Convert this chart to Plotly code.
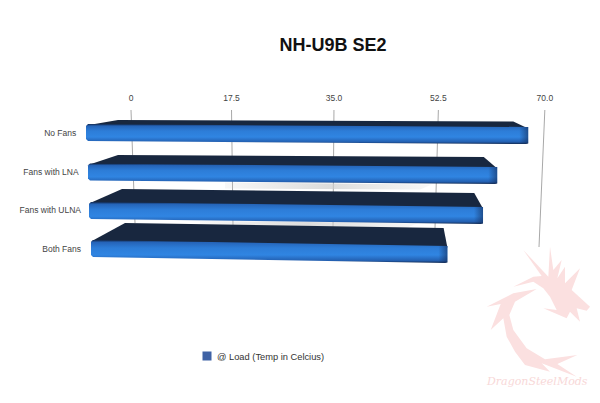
import plotly.graph_objects as go

# ---- data ----
categories = ["No Fans", "Fans with LNA", "Fans with ULNA", "Both Fans"]
load_temps = [67.0, 62.0, 59.7, 54.0]
tick_values = [0, 17.5, 35.0, 52.5, 70.0]
tick_labels = ["0", "17.5", "35.0", "52.5", "70.0"]
series_name = "@ Load (Temp in Celcius)"
title_text = "NH-U9B SE2"
watermark_text = "DragonSteelMods"

# ---- projection / layout geometry (screen pixels) ----
W, H = 600, 403
PLOT_L, PLOT_T = 82, 110
A, B, ZERO_X = 5.69, -0.000536, 131.0
UNIT = 5.91
ROW_Y0, ROW_DY = 133.0, 38.7

def ux(px):
    return (px - ZERO_X) / UNIT
def uy(py):
    return (py - ROW_Y0) / ROW_DY
def project(v):
    return ZERO_X + A * v / (1 + B * v)

# per-row bar geometry
front_left = [86, 88, 89, 91]
back_left = [118, 118, 122, 125]
front_top = [124, 163.5, 202, 240]
front_h = [17, 17, 17, 17]
back_top = [120, 155, 189, 223]
front_slope = [.0068, .0085, .0127, .0168]
back_slope = [.0038, .0055, .0114, .0158]
FRONT_SCALE, BACK_SCALE = 6.6, 5.9
grid_bottom = [(135, 223), (233, 226), (333, 228), (435, 228), (539, 247)]

fig = go.Figure()

def poly(pts, **kw):
    fig.add_trace(go.Scatter(
        x=[ux(p[0]) for p in pts] + [ux(pts[0][0])],
        y=[uy(p[1]) for p in pts] + [uy(pts[0][1])],
        mode="lines", fill="toself", line=dict(width=0),
        hoverinfo="skip", showlegend=False, **kw))

# watermark dragon (decoration, from zoomed-crop coordinates)
def wm(p):
    return [(470 + x / 3, 240 + y / 3) for x, y in p]
PINK = "#fbe0e0"
poly(wm([(200,147),(130,160),(50,200),(92,192),(62,270),(100,235),(110,290),(135,335),
         (165,375),(240,395),(215,370),(320,410),(262,372),(322,345),(225,358),(170,325),
         (130,270),(118,225),(135,185)]), fillcolor=PINK)
poly(wm([(130,140),(190,110),(215,108),(160,30),(235,110),(240,20),(250,90),(275,60),
         (262,115),(285,80),(285,130),(330,85),(305,150),(360,200),(350,212),(320,205),
         (330,245),(300,215),(290,235),(220,205),(260,210),(240,170),(220,145),(190,125)]),
     fillcolor=PINK)

# perspective gridlines
for v, (bx, by) in zip(tick_values, grid_bottom):
    fig.add_trace(go.Scatter(x=[ux(project(v)), ux(bx)], y=[uy(PLOT_T), uy(by)], mode="lines",
                             line=dict(color="#a8a8a8", width=1), hoverinfo="skip", showlegend=False))

# soft shadows under the middle bars
for i, (x0, x1) in {1: (225, 432), 2: (200, 418)}.items():
    y0 = front_top[i] + front_h[i]
    poly([(x0, y0 + 2), (x1, y0 + 4), (x1 - 12, y0 + 9), (x0, y0 + 8)],
         fillgradient=dict(type="horizontal",
                           colorscale=[[0, "rgba(205,205,205,0.15)"], [.5, "rgba(205,205,205,0.7)"],
                                       [1, "rgba(205,205,205,0.15)"]]))

# bars
face = [[0, "#132a50"], [.1, "#235fb0"], [.35, "#3085e2"], [.65, "#2d7dd8"], [.9, "#2564b8"], [1, "#12294f"]]
for i, v in enumerate(load_temps):
    fl, bl = front_left[i], back_left[i]
    fr = fl + v * FRONT_SCALE
    br = bl + v * BACK_SCALE
    ft, h = front_top[i], front_h[i]
    frt = ft + (fr - fl) * front_slope[i]
    brt = back_top[i] + (br - bl) * back_slope[i]
    poly([(bl, back_top[i]), (br, brt), (fr, frt + 1.5), (fl, ft + 1.5)], fillcolor="#18273f")
    poly([(fl, ft + 2), (fl + 2, ft), (fr, frt), (fr, frt + h - 1), (fr - 2, frt + h),
          (fl + 2, ft + h), (fl, ft + h - 2)],
         fillgradient=dict(type="vertical", colorscale=face))
    poly([(fr - 9, frt + (-9 * front_slope[i])), (fr, frt), (fr, frt + h), (fr - 9, frt + h)],
         fillgradient=dict(type="horizontal", colorscale=[[0, "rgba(20,45,90,0)"], [1, "rgba(20,45,90,0.6)"]]))

# legend entry
fig.add_trace(go.Scatter(x=[None], y=[None], mode="markers", name=series_name,
                         marker=dict(symbol="square", size=9, color="#3f62a5")))

x_range = [ux(PLOT_L), ux(W)]
y_range = [uy(H), uy(PLOT_T)]
FONT = "Liberation Sans"
fig.update_layout(
    width=W, height=H, autosize=False, paper_bgcolor="white", plot_bgcolor="white",
    margin=dict(l=PLOT_L, r=0, t=PLOT_T, b=0),
    font=dict(family=FONT, size=8.5, color="#444444"),
    title=dict(text=title_text, x=333 / W, xanchor="center", y=1 - 45 / H, yanchor="middle",
               font=dict(family=FONT, size=18, color="#111111", weight="bold")),
    xaxis=dict(range=x_range, side="top", showgrid=False, zeroline=False, showline=False,
               tickmode="array", tickvals=[ux(project(v)) for v in tick_values], ticktext=tick_labels,
               ticks="", ticklabelstandoff=6),
    yaxis=dict(range=y_range, showgrid=False, zeroline=False, showline=False,
               tickmode="array", tickvals=list(range(len(categories))),
               ticktext=[c + "\u00a0" * n for c, n in zip(categories, [2, 1, 0, 0])], ticks=""),
    legend=dict(x=(177 - PLOT_L) / (W - PLOT_L), y=1 - (356 - PLOT_T) / (H - PLOT_T), yanchor="middle",
                xanchor="left", bgcolor="rgba(0,0,0,0)", font=dict(size=9.3, color="#333333"),
                itemwidth=30),
    showlegend=True,
    annotations=[dict(x=ux(537), y=uy(381), xref="x", yref="y", text="<i>" + watermark_text + "</i>",
                      showarrow=False, font=dict(family="DejaVu Serif", size=11, color="#f8d8d8"))],
)
fig.write_html(
    "out.html",
    config={"displayModeBar": False},
    post_script=(
        "document.body.style.margin='0';document.documentElement.style.overflow='hidden';"
        "document.querySelectorAll('.legend .legendsymbols').forEach(function(n){"
        "n.setAttribute('transform','translate(10,0)');});"
    ),
)
